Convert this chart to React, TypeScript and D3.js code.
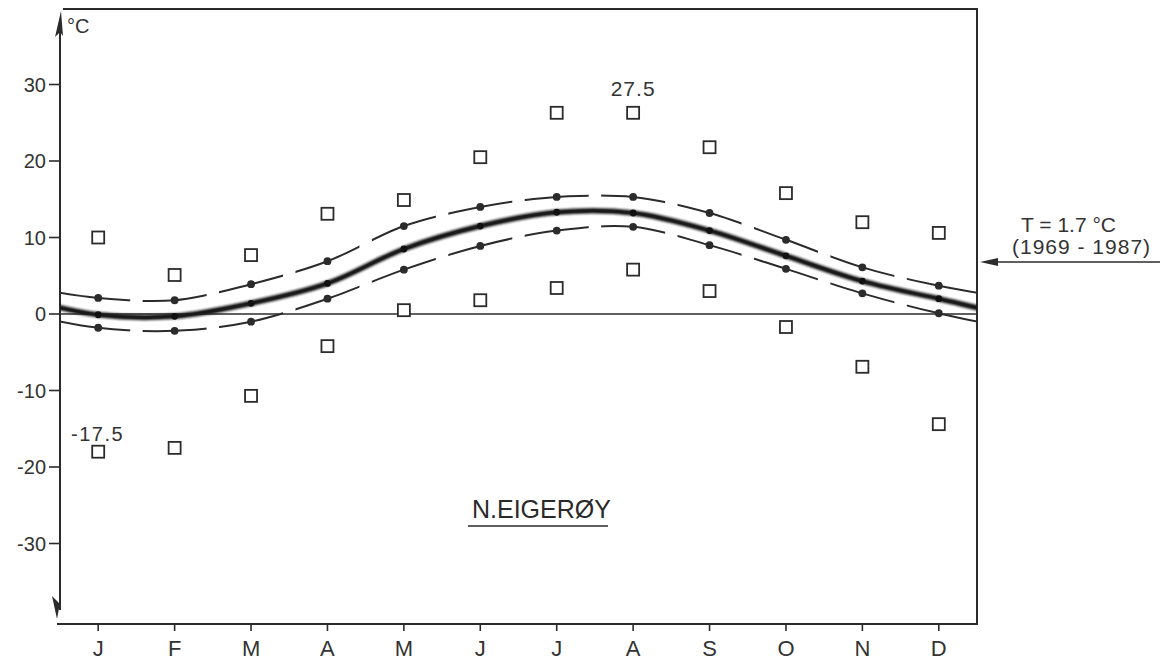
import React, { useRef, useEffect } from "react";
import * as d3 from "d3";

// monthly temperatures, N.Eigerøy (1969-1987)
const months = ["J", "F", "M", "A", "M", "J", "J", "A", "S", "O", "N", "D"];
const meanT = [-0.1, -0.3, 1.4, 4.0, 8.5, 11.5, 13.3, 13.2, 10.9, 7.6, 4.3, 2.0];
const upperT = [2.1, 1.8, 3.9, 6.9, 11.5, 14.0, 15.3, 15.3, 13.2, 9.7, 6.1, 3.7];
const lowerT = [-1.8, -2.2, -1.0, 2.0, 5.8, 8.9, 10.9, 11.4, 9.0, 5.9, 2.7, 0.1];
const maxT = [10.0, 5.1, 7.7, 13.1, 14.9, 20.5, 26.3, 26.3, 21.8, 15.8, 12.0, 10.6];
const minT = [-18.0, -17.5, -10.7, -4.2, 0.5, 1.8, 3.4, 5.8, 3.0, -1.7, -6.9, -14.4];
const yTicks = [30, 20, 10, 0, -10, -20, -30];

const App = () => {
  const svgRef = useRef<SVGSVGElement>(null);
  const width = 1163;
  const height = 662;
  const frame = { left: 60, right: 977, top: 9, bottom: 624 };
  const ink = "#2b2b2b";
  const font = "'Liberation Sans', Arial, Helvetica, sans-serif";

  useEffect(() => {
    const svg = d3.select(svgRef.current);
    svg.selectAll("*").remove();

    const x = d3.scaleLinear().domain([-0.5, 11.5]).range([frame.left, frame.right]);
    const y = d3.scaleLinear().domain([-40, 40]).range([620, 8]);

    const defs = svg.append("defs");
    defs
      .append("clipPath")
      .attr("id", "plot")
      .append("rect")
      .attr("x", frame.left)
      .attr("y", frame.top)
      .attr("width", frame.right - frame.left)
      .attr("height", frame.bottom - frame.top);

    // long dashes centred on each monthly point
    const dashClip = defs.append("clipPath").attr("id", "dashes");
    months.forEach((m, i) => {
      const x0 = i === 0 ? frame.left : x(i) - 32;
      const x1 = i === months.length - 1 ? frame.right : x(i) + 32;
      dashClip
        .append("rect")
        .attr("x", x0)
        .attr("y", frame.top)
        .attr("width", x1 - x0)
        .attr("height", frame.bottom - frame.top);
    });

    defs
      .append("filter")
      .attr("id", "soft")
      .attr("x", "-5%")
      .attr("y", "-50%")
      .attr("width", "110%")
      .attr("height", "200%")
      .append("feGaussianBlur")
      .attr("stdDeviation", 1.2);

    // the year wraps round: pad with Nov/Dec before and Jan/Feb after
    const wrap = (vals: number[]) =>
      [vals[10], vals[11], ...vals, vals[0], vals[1]].map((v, k) => [k - 2, v] as [number, number]);

    const line = d3
      .line<[number, number]>()
      .x((d) => x(d[0]))
      .y((d) => y(d[1]))
      .curve(d3.curveCatmullRom.alpha(0.5));

    // frame
    svg
      .append("path")
      .attr("d", `M${frame.left + 3},${frame.top}H${frame.right}V${frame.bottom}H${frame.left - 3}`)
      .attr("fill", "none")
      .attr("stroke", ink)
      .attr("stroke-width", 2);

    // left axis with arrows at both ends
    svg
      .append("line")
      .attr("x1", frame.left)
      .attr("x2", frame.left)
      .attr("y1", 20)
      .attr("y2", 610)
      .attr("stroke", ink)
      .attr("stroke-width", 2);
    svg.append("path").attr("d", `M61,11 L55,37 L60,32 L63,36 Z`).attr("fill", ink);
    svg.append("path").attr("d", `M57,619 L52,596 L59,603 L61,598 Z`).attr("fill", ink);

    // y ticks
    const yAxis = svg.append("g").attr("font-family", font).attr("font-size", 20).attr("fill", "#333");
    yTicks.forEach((t) => {
      yAxis
        .append("line")
        .attr("x1", 49)
        .attr("x2", frame.left)
        .attr("y1", y(t))
        .attr("y2", y(t))
        .attr("stroke", ink)
        .attr("stroke-width", 1.6);
      yAxis
        .append("text")
        .attr("x", 46)
        .attr("y", y(t))
        .attr("dy", "0.36em")
        .attr("text-anchor", "end")
        .text(t < 0 ? `-${Math.abs(t)}` : `${t}`);
    });

    // x ticks
    const xAxis = svg.append("g").attr("font-family", font).attr("font-size", 22).attr("fill", "#333");
    months.forEach((m, i) => {
      xAxis
        .append("line")
        .attr("x1", x(i))
        .attr("x2", x(i))
        .attr("y1", frame.bottom)
        .attr("y2", frame.bottom + 7)
        .attr("stroke", ink)
        .attr("stroke-width", 1.6);
      xAxis
        .append("text")
        .attr("x", x(i))
        .attr("y", 656)
        .attr("text-anchor", "middle")
        .text(m);
    });

    // zero line
    svg
      .append("line")
      .attr("x1", frame.left)
      .attr("x2", frame.right)
      .attr("y1", y(0))
      .attr("y2", y(0))
      .attr("stroke", ink)
      .attr("stroke-width", 1.4);

    const plot = svg.append("g").attr("clip-path", "url(#plot)");

    // dashed envelope lines
    [upperT, lowerT].forEach((vals) => {
      plot
        .append("g")
        .attr("clip-path", "url(#dashes)")
        .append("path")
        .datum(wrap(vals))
        .attr("fill", "none")
        .attr("stroke", ink)
        .attr("stroke-width", 2)
        .attr("d", line);
      plot
        .selectAll(null)
        .data(vals)
        .join("circle")
        .attr("cx", (d, i) => x(i))
        .attr("cy", (d) => y(d))
        .attr("r", 3.9)
        .attr("fill", ink);
    });

    // mean curve, thick and soft
    plot
      .append("path")
      .datum(wrap(meanT))
      .attr("fill", "none")
      .attr("stroke", "#1e1e1e")
      .attr("stroke-width", 5.5)
      .attr("filter", "url(#soft)")
      .attr("d", line);
    plot
      .append("path")
      .datum(wrap(meanT))
      .attr("fill", "none")
      .attr("stroke", "#1a1a1a")
      .attr("stroke-width", 2.5)
      .attr("d", line);
    plot
      .selectAll(null)
      .data(meanT)
      .join("circle")
      .attr("cx", (d, i) => x(i))
      .attr("cy", (d) => y(d))
      .attr("r", 3.4)
      .attr("fill", "#111");

    // monthly extremes
    [maxT, minT].forEach((vals) => {
      svg
        .append("g")
        .selectAll("rect")
        .data(vals)
        .join("rect")
        .attr("x", (d, i) => x(i) - 6)
        .attr("y", (d) => y(d) - 6)
        .attr("width", 12)
        .attr("height", 12)
        .attr("fill", "white")
        .attr("stroke", ink)
        .attr("stroke-width", 1.8);
    });

    const labels = svg.append("g").attr("font-family", font).attr("fill", "#333");
    labels.append("text").attr("x", 67).attr("y", 33).attr("font-size", 20).text("°C");
    labels
      .append("text")
      .attr("x", x(7))
      .attr("y", 96)
      .attr("text-anchor", "middle")
      .attr("font-size", 21)
      .attr("letter-spacing", 1)
      .text("27.5");
    labels
      .append("text")
      .attr("x", 71)
      .attr("y", 441)
      .attr("font-size", 20)
      .attr("letter-spacing", 1.5)
      .text("-17.5");

    labels
      .append("text")
      .attr("x", 472)
      .attr("y", 518)
      .attr("font-size", 25)
      .attr("fill", "#2a2a2a")
      .text("N.EIGERØY");
    labels
      .append("line")
      .attr("x1", 468)
      .attr("x2", 608)
      .attr("y1", 526)
      .attr("y2", 526)
      .attr("stroke", ink)
      .attr("stroke-width", 1.6);

    labels.append("text").attr("x", 1021).attr("y", 232).attr("font-size", 21).text("T = 1.7 °C");
    labels
      .append("text")
      .attr("x", 1012)
      .attr("y", 254)
      .attr("font-size", 21)
      .attr("letter-spacing", 1)
      .text("(1969 - 1987)");
    labels
      .append("line")
      .attr("x1", 992)
      .attr("x2", 1160)
      .attr("y1", 262)
      .attr("y2", 262)
      .attr("stroke", ink)
      .attr("stroke-width", 1.6);
    labels.append("path").attr("d", "M980,262 L998,258 L998,266 Z").attr("fill", ink);
  }, []);

  return (
    <div>
      <svg
        ref={svgRef}
        width={width}
        height={height}
        style={{ position: "absolute", left: 0, top: 0, background: "white" }}
      />
    </div>
  );
};

export default App;
